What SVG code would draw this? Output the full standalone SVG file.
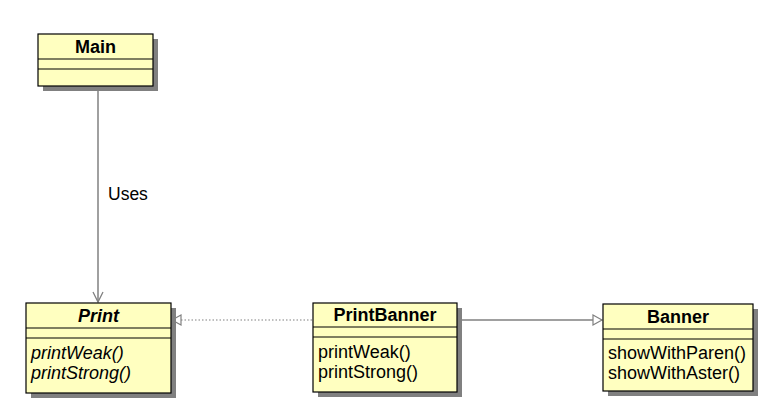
<svg xmlns="http://www.w3.org/2000/svg" width="778" height="419" viewBox="0 0 778 419">
<style>
.shadow{fill:#808080}
.box{fill:#ffffc0;stroke:#000;stroke-width:1.2}
.sep{stroke:#000;stroke-width:1.2}
.title{font-family:"Liberation Sans",Arial,sans-serif;font-weight:bold;font-size:18px;text-anchor:middle;fill:#000}
.title.it{font-style:italic}
.m{font-family:"Liberation Sans",Arial,sans-serif;font-size:18px;fill:#000}
.m.it{font-style:italic}
.edge{fill:none;stroke:#808080;stroke-width:1.5}
.dot{fill:none;stroke:#808080;stroke-width:1.2;stroke-dasharray:1.5 2}
.lbl{font-family:"Liberation Sans",Arial,sans-serif;font-size:17.5px;fill:#000}
</style>
<defs>
<marker id="open" markerWidth="14" markerHeight="14" refX="12" refY="7" orient="auto" markerUnits="userSpaceOnUse">
<path d="M2,2 L12,7 L2,12" fill="none" stroke="#808080" stroke-width="1.3"/>
</marker>
<marker id="tri" markerWidth="14" markerHeight="14" refX="11" refY="7" orient="auto" markerUnits="userSpaceOnUse">
<path d="M2,2 L11,7 L2,12 Z" fill="#fff" stroke="#808080" stroke-width="1.2"/>
</marker>
</defs>
<g id="connectors">
<line class="edge" x1="98" y1="87" x2="98" y2="302" marker-end="url(#open)"/>
<text class="lbl" x="108" y="200">Uses</text>
<line class="dot" x1="312" y1="320" x2="172" y2="320" marker-end="url(#tri)"/>
<line class="edge" x1="458" y1="320" x2="602" y2="320" marker-end="url(#tri)"/>
</g>
<g id="Main">
<rect class="shadow" x="43" y="39" width="115" height="52"/>
<rect class="box" x="38" y="34" width="115" height="52"/>
<line class="sep" x1="38" y1="59" x2="153" y2="59"/>
<line class="sep" x1="38" y1="69" x2="153" y2="69"/>
<text class="title" x="95.5" y="53">Main</text>
</g>
<g id="Print">
<rect class="shadow" x="31" y="308" width="145" height="90"/>
<rect class="box" x="26" y="303" width="145" height="90"/>
<line class="sep" x1="26" y1="328" x2="171" y2="328"/>
<line class="sep" x1="26" y1="338" x2="171" y2="338"/>
<text class="title it" x="98.5" y="322">Print</text>
<text class="m it" x="31" y="359">printWeak()</text>
<text class="m it" x="31" y="379">printStrong()</text>
</g>
<g id="PrintBanner">
<rect class="shadow" x="318" y="308" width="144" height="89"/>
<rect class="box" x="313" y="303" width="144" height="89"/>
<line class="sep" x1="313" y1="327" x2="457" y2="327"/>
<line class="sep" x1="313" y1="337" x2="457" y2="337"/>
<text class="title" x="385" y="321">PrintBanner</text>
<text class="m" x="318" y="358">printWeak()</text>
<text class="m" x="318" y="378">printStrong()</text>
</g>
<g id="Banner">
<rect class="shadow" x="608" y="309" width="150" height="87"/>
<rect class="box" x="603" y="304" width="150" height="87"/>
<line class="sep" x1="603" y1="329" x2="753" y2="329"/>
<line class="sep" x1="603" y1="339" x2="753" y2="339"/>
<text class="title" x="678" y="323">Banner</text>
<text class="m" x="608" y="359">showWithParen()</text>
<text class="m" x="608" y="379">showWithAster()</text>
</g>
</svg>
